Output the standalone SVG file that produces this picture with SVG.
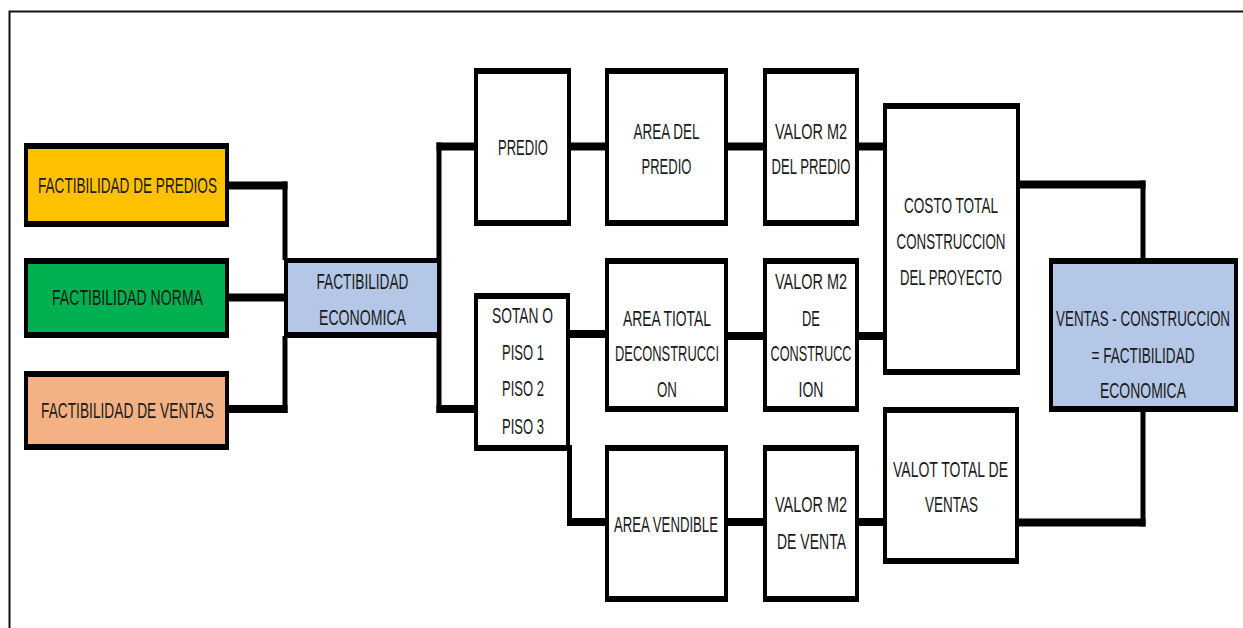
<svg xmlns="http://www.w3.org/2000/svg" width="1243" height="628" viewBox="0 0 1243 628">
<style>
.frame{fill:none;stroke:#111;stroke-width:2}
.h{stroke:#000;stroke-width:8;fill:none}
.v{stroke:#000;stroke-width:5;fill:none}
.out{fill:#000}
.t{font-family:"Liberation Sans",Arial,sans-serif;font-size:22px;fill:#1a1a1a;text-anchor:middle}
</style>
<rect x="0" y="0" width="1243" height="628" fill="#fff"/>
<path class="frame" d="M9.5,628 V11.5 H1243"/>
<g id="connectors">
<line class="h" x1="229" y1="185.5" x2="287.5" y2="185.5"/>
<line class="v" x1="285" y1="181.5" x2="285" y2="260"/>
<line class="h" x1="229" y1="297.5" x2="286" y2="297.5"/>
<line class="h" x1="229" y1="409" x2="287.5" y2="409"/>
<line class="v" x1="285" y1="336" x2="285" y2="413"/>
<line class="v" x1="439" y1="142.5" x2="439" y2="413"/>
<line class="h" x1="436.5" y1="146.5" x2="476" y2="146.5"/>
<line class="h" x1="436.5" y1="409" x2="476" y2="409"/>
<line class="h" x1="570" y1="146.5" x2="606" y2="146.5"/>
<line class="h" x1="727" y1="146.5" x2="764" y2="146.5"/>
<line class="h" x1="858" y1="146.5" x2="884" y2="146.5"/>
<line class="h" x1="569" y1="334" x2="606" y2="334"/>
<line class="h" x1="727" y1="336" x2="764" y2="336"/>
<line class="h" x1="858" y1="336" x2="884" y2="336"/>
<line class="v" x1="569.5" y1="445" x2="569.5" y2="526"/>
<line class="h" x1="567" y1="522" x2="606" y2="522"/>
<line class="h" x1="727" y1="522" x2="764" y2="522"/>
<line class="h" x1="858" y1="522" x2="884" y2="522"/>
<line class="h" x1="1019" y1="184.5" x2="1145.5" y2="184.5"/>
<line class="v" x1="1143" y1="180.5" x2="1143" y2="260"/>
<line class="h" x1="1018" y1="522.5" x2="1145.5" y2="522.5"/>
<line class="v" x1="1143" y1="410" x2="1143" y2="526.5"/>
</g>
<g id="n-predios">
<rect class="out" x="24" y="143" width="205" height="84"/>
<rect x="28" y="149" width="197" height="72" fill="#ffc000"/>
<text class="t" x="127.5" y="193" textLength="179" lengthAdjust="spacingAndGlyphs">FACTIBILIDAD DE PREDIOS</text>
</g>
<g id="n-norma">
<rect class="out" x="24" y="258" width="205" height="80"/>
<rect x="28" y="264" width="197" height="68" fill="#00b050"/>
<text class="t" x="127.5" y="305" textLength="151" lengthAdjust="spacingAndGlyphs">FACTIBILIDAD NORMA</text>
</g>
<g id="n-ventas">
<rect class="out" x="24" y="371" width="205" height="79"/>
<rect x="28" y="377" width="197" height="67" fill="#f4b183"/>
<text class="t" x="127.5" y="418" textLength="173" lengthAdjust="spacingAndGlyphs">FACTIBILIDAD DE VENTAS</text>
</g>
<g id="n-econ">
<rect class="out" x="284" y="258" width="157" height="80"/>
<rect x="288" y="263" width="149" height="69" fill="#b4c7e7"/>
<text class="t" x="362.5" y="289" textLength="92" lengthAdjust="spacingAndGlyphs">FACTIBILIDAD</text>
<text class="t" x="362.5" y="325" textLength="87" lengthAdjust="spacingAndGlyphs">ECONOMICA</text>
</g>
<g id="n-predio">
<rect class="out" x="474" y="68" width="97" height="158"/>
<rect x="478" y="74" width="89" height="146" fill="#fff"/>
<text class="t" x="523" y="155" textLength="50" lengthAdjust="spacingAndGlyphs">PREDIO</text>
</g>
<g id="n-areadel">
<rect class="out" x="605" y="68" width="123" height="158"/>
<rect x="609" y="74" width="115" height="146" fill="#fff"/>
<text class="t" x="666.5" y="139" textLength="66" lengthAdjust="spacingAndGlyphs">AREA DEL</text>
<text class="t" x="666.5" y="174" textLength="50" lengthAdjust="spacingAndGlyphs">PREDIO</text>
</g>
<g id="n-valorpredio">
<rect class="out" x="763" y="68" width="96" height="158"/>
<rect x="767" y="74" width="88" height="146" fill="#fff"/>
<text class="t" x="811" y="139" textLength="72" lengthAdjust="spacingAndGlyphs">VALOR M2</text>
<text class="t" x="811" y="174" textLength="79" lengthAdjust="spacingAndGlyphs">DEL PREDIO</text>
</g>
<g id="n-costo">
<rect class="out" x="883" y="103" width="137" height="272"/>
<rect x="887" y="109" width="129" height="260" fill="#fff"/>
<text class="t" x="951" y="213" textLength="94" lengthAdjust="spacingAndGlyphs">COSTO TOTAL</text>
<text class="t" x="951" y="249" textLength="109" lengthAdjust="spacingAndGlyphs">CONSTRUCCION</text>
<text class="t" x="951" y="285" textLength="102" lengthAdjust="spacingAndGlyphs">DEL PROYECTO</text>
</g>
<g id="n-sotano">
<rect class="out" x="474" y="293" width="96" height="158"/>
<rect x="478" y="299" width="88" height="146" fill="#fff"/>
<text class="t" x="522.5" y="323" textLength="61" lengthAdjust="spacingAndGlyphs">SOTAN O</text>
<text class="t" x="523" y="360" textLength="42" lengthAdjust="spacingAndGlyphs">PISO 1</text>
<text class="t" x="523" y="396" textLength="42" lengthAdjust="spacingAndGlyphs">PISO 2</text>
<text class="t" x="523" y="434" textLength="42" lengthAdjust="spacingAndGlyphs">PISO 3</text>
</g>
<g id="n-areatotal">
<rect class="out" x="605" y="258" width="123" height="154"/>
<rect x="609" y="264" width="115" height="142" fill="#fff"/>
<text class="t" x="667" y="326" textLength="88" lengthAdjust="spacingAndGlyphs">AREA TIOTAL</text>
<text class="t" x="667" y="361" textLength="104" lengthAdjust="spacingAndGlyphs">DECONSTRUCCI</text>
<text class="t" x="667" y="397" textLength="20" lengthAdjust="spacingAndGlyphs">ON</text>
</g>
<g id="n-valorconst">
<rect class="out" x="763" y="258" width="96" height="154"/>
<rect x="767" y="264" width="88" height="142" fill="#fff"/>
<text class="t" x="811" y="289" textLength="72" lengthAdjust="spacingAndGlyphs">VALOR M2</text>
<text class="t" x="811" y="326" textLength="18" lengthAdjust="spacingAndGlyphs">DE</text>
<text class="t" x="811" y="361" textLength="81" lengthAdjust="spacingAndGlyphs">CONSTRUCC</text>
<text class="t" x="811" y="397" textLength="25" lengthAdjust="spacingAndGlyphs">ION</text>
</g>
<g id="n-resultado">
<rect class="out" x="1049" y="258" width="189" height="154"/>
<rect x="1053" y="264" width="181" height="142" fill="#b4c7e7"/>
<text class="t" x="1143" y="326" textLength="174" lengthAdjust="spacingAndGlyphs">VENTAS - CONSTRUCCION</text>
<text class="t" x="1143" y="363" textLength="103" lengthAdjust="spacingAndGlyphs">= FACTIBILIDAD</text>
<text class="t" x="1143" y="398" textLength="86" lengthAdjust="spacingAndGlyphs">ECONOMICA</text>
</g>
<g id="n-areavend">
<rect class="out" x="605" y="445" width="123" height="157"/>
<rect x="609" y="451" width="115" height="145" fill="#fff"/>
<text class="t" x="666" y="532" textLength="104" lengthAdjust="spacingAndGlyphs">AREA VENDIBLE</text>
</g>
<g id="n-valorventa">
<rect class="out" x="763" y="445" width="96" height="157"/>
<rect x="767" y="451" width="88" height="145" fill="#fff"/>
<text class="t" x="811" y="512" textLength="72" lengthAdjust="spacingAndGlyphs">VALOR M2</text>
<text class="t" x="811.5" y="549" textLength="69" lengthAdjust="spacingAndGlyphs">DE VENTA</text>
</g>
<g id="n-valot">
<rect class="out" x="883" y="407" width="136" height="157"/>
<rect x="887" y="413" width="128" height="145" fill="#fff"/>
<text class="t" x="950.5" y="477" textLength="115" lengthAdjust="spacingAndGlyphs">VALOT TOTAL DE</text>
<text class="t" x="951.5" y="512" textLength="53" lengthAdjust="spacingAndGlyphs">VENTAS</text>
</g>
</svg>
